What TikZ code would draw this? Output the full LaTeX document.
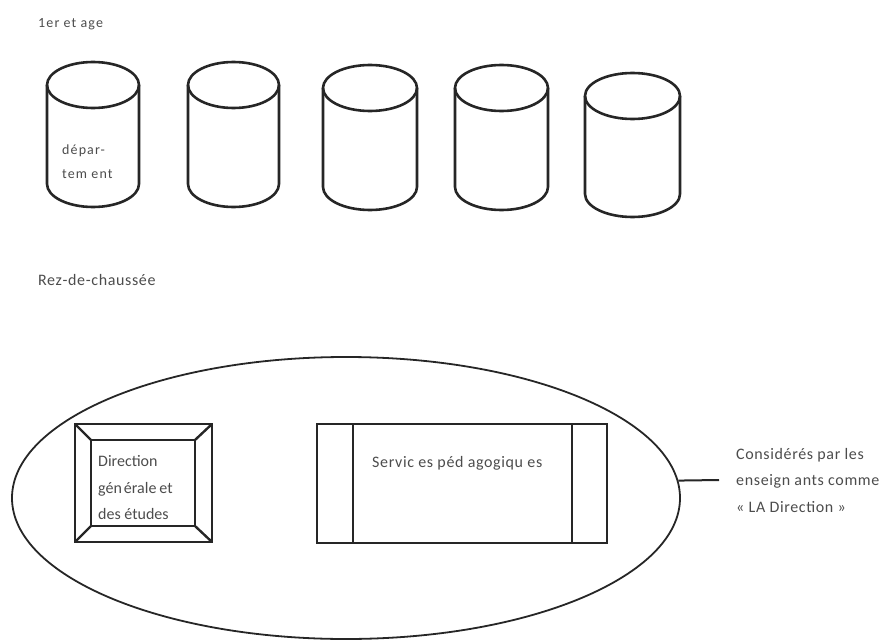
\documentclass[tikz,border=0pt]{standalone}
\usepackage{fontspec}
\setmainfont{Carlito}
\newfontfamily\labelfont[LetterSpace=4]{Carlito}
\newfontfamily\smallfont[LetterSpace=8]{Carlito}
\usetikzlibrary{shapes.geometric}
\begin{document}
\begin{tikzpicture}[x=1pt,y=1pt,
  tank/.style={line width=2.6pt,black!85},
  frame/.style={line width=2.4pt,black!85},
  label/.style={text=black!70,inner sep=0pt,anchor=west,align=left,
    font=\labelfont\fontsize{16}{26.5}\selectfont},
  small/.style={text=black!70,inner sep=0pt,anchor=west,align=left,
    font=\smallfont\fontsize{14}{24}\selectfont}]
\useasboundingbox (0,0) rectangle (881,-642);
% a vertical drum: centre x, top y, bottom y, half width
\newcommand\drum[4]{%
  \draw[tank] (#1,-#2-23) ellipse[x radius=#4,y radius=23];
  \draw[tank] (#1-#4,-#2-23) -- (#1-#4,-#3+23)
    arc[start angle=180,end angle=360,x radius=#4,y radius=23]
    -- (#1+#4,-#2-23);}
% first floor
\node[small] (etage) at (38,-24) {1er et age};
\drum{93}{62}{207}{46}
\drum{233.5}{62}{207}{45.5}
\drum{370}{65}{210}{47}
\drum{501.5}{65}{210}{46.5}
\drum{632.5}{73}{217}{47.5}
\node[small] (dept) at (62,-162) {dépar-\\tem ent};
% ground floor
\node[label] (rdc) at (38,-280) {Rez-de-chaussée};
\node[draw,ellipse,line width=1.8pt,black!85,minimum width=668pt,
  minimum height=282pt,inner sep=0pt] (zone) at (346,-498) {};
% general management office
\draw[frame] (75,-424) rectangle (212,-542);
\draw[frame] (91,-440) rectangle (195,-526);
\draw[frame] (75,-424) -- (91,-440) (212,-424) -- (195,-440)
  (75,-542) -- (91,-526) (212,-542) -- (195,-526);
\node[label,font=\fontsize{16}{26.5}\selectfont] (dir) at (98,-488)
  {Direction\\gén\hspace{2pt}érale\hspace{3pt}et\\des études};
% teaching services
\draw[frame] (317,-424) rectangle (607,-543);
\draw[frame] (353,-424) -- (353,-543) (572,-424) -- (572,-543);
\node[label] (serv) at (372,-463) {Servic es péd agogiqu es};
% annotation
\node[label,inner xsep=17pt] (note) at (719,-480)
  {Considérés par les\\enseign ants comme\\« LA Direction »};
\draw[line width=2pt,black!85] (zone.3.1) -- (note.west);
\end{tikzpicture}
\end{document}
